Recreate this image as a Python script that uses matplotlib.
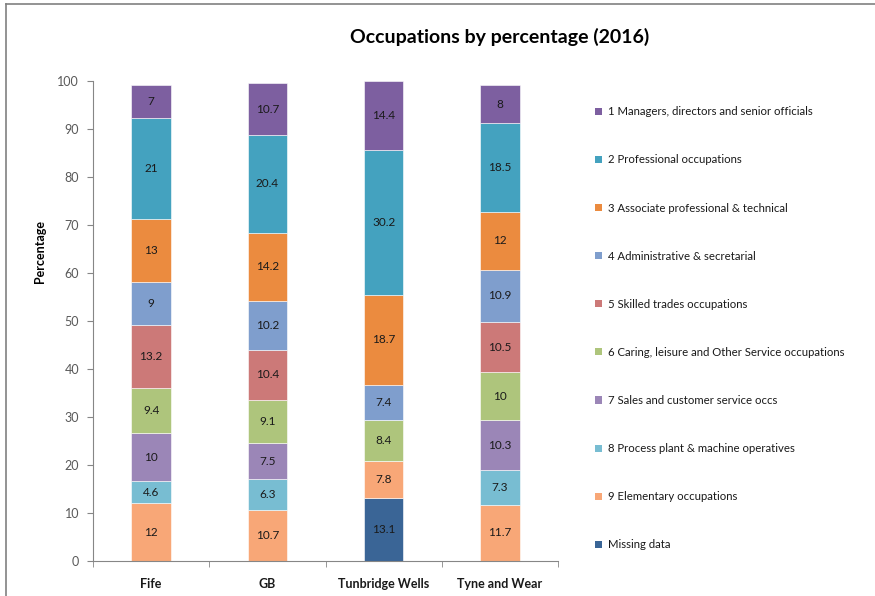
import numpy as np
import matplotlib
matplotlib.use('Agg')
import matplotlib.pyplot as plt
from matplotlib.lines import Line2D
from matplotlib.patches import Patch

plt.rcParams['font.family'] = ['Lato', 'DejaVu Sans']

areas = ['Fife', 'GB', 'Tunbridge Wells', 'Tyne and Wear']

# stacked bottom -> top
groups = ['Missing data',
          '9 Elementary occupations',
          '8 Process plant & machine operatives',
          '7 Sales and customer service occs',
          '6 Caring, leisure and Other Service occupations',
          '5 Skilled trades occupations',
          '4 Administrative & secretarial',
          '3 Associate professional & technical',
          '2 Professional occupations',
          '1 Managers, directors and senior officials']

missing      = [0, 0, 13.1, 0]
elementary   = [12, 10.7, 7.8, 11.7]
process      = [4.6, 6.3, 0, 7.3]
sales        = [10, 7.5, 0, 10.3]
caring       = [9.4, 9.1, 8.4, 10]
skilled      = [13.2, 10.4, 0, 10.5]
admin        = [9, 10.2, 7.4, 10.9]
associate    = [13, 14.2, 18.7, 12]
professional = [21, 20.4, 30.2, 18.5]
managers     = [7, 10.7, 14.4, 8]

series = [missing, elementary, process, sales, caring, skilled,
          admin, associate, professional, managers]
colours = ['#3a6596', '#f8a777', '#78bdd2', '#9b86b7', '#aec57c',
           '#cc7978', '#7f9ecd', '#eb8b3f', '#44a2bf', '#7d5fa0']

fig = plt.figure(figsize=(8.75, 5.96), dpi=100)
ax = fig.add_axes([93/875, 1-561/596, (558-93)/875, (561-81)/596])

x = np.arange(len(areas))
bottom = np.zeros(len(areas))
for vals, col in zip(series, colours):
    vals = np.array(vals, dtype=float)
    bars = ax.bar(x, vals, 0.34, bottom=bottom, color=col,
                  edgecolor='white', linewidth=0.4)
    for b, v, y0 in zip(bars, vals, bottom):
        if v > 0:
            ax.text(b.get_x() + b.get_width()/2, y0 + v/2, f'{v:g}',
                    ha='center', va='center', fontsize=8.5, color='#1a1a1a')
    bottom += vals

ax.set_xlim(-0.5, len(areas) - 0.5)
ax.set_ylim(0, 100)
ax.set_yticks(range(0, 101, 10))
ax.set_xticks(x)
ax.set_xticklabels(areas, fontsize=9, fontweight='bold', color='#1a1a1a')
ax.set_xticks(np.arange(-0.5, len(areas), 1), minor=True)
ax.tick_params(axis='x', which='major', length=0, pad=12)
ax.tick_params(axis='x', which='minor', length=4, color='#868686')
ax.tick_params(axis='y', length=4, color='#868686', labelsize=9,
               labelcolor='#595959', pad=6)
for s in ['top', 'right']:
    ax.spines[s].set_visible(False)
for s in ['left', 'bottom']:
    ax.spines[s].set_color('#868686')
    ax.spines[s].set_linewidth(0.8)

fig.text(500/875, 1-37/596, 'Occupations by percentage (2016)',
         ha='center', va='center', fontsize=14, fontweight='bold')
fig.text(40/875, 1-252/596, 'Percentage', rotation=90, ha='center',
         va='center', fontsize=9, fontweight='bold')

handles = [Patch(facecolor=c, edgecolor='none') for c in colours[::-1]]
fig.legend(handles, groups[::-1], loc='upper left',
           bbox_to_anchor=(585/875, 1-96/596), frameon=False,
           fontsize=8.2, labelspacing=3.26, handlelength=0.6,
           handleheight=0.6, handletextpad=0.5, labelcolor='#1a1a1a')

# outer chart frame (left and top edges visible)
fig.add_artist(Line2D([6/875, 6/875], [0, 1-4/596], color='#808080', lw=1.2))
fig.add_artist(Line2D([6/875, 1], [1-4/596, 1-4/596], color='#808080', lw=1.2))

fig.savefig('out.png', dpi=100)
